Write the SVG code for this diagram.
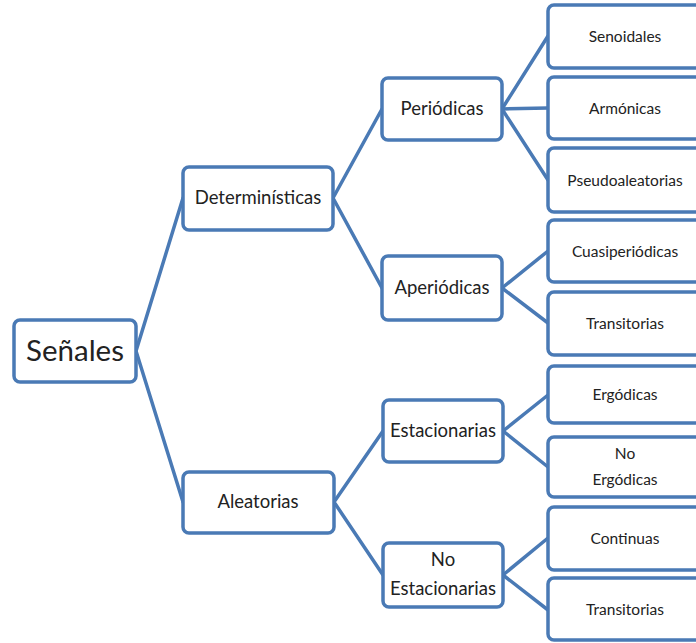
<svg xmlns="http://www.w3.org/2000/svg" width="696" height="643" viewBox="0 0 696 643">
  <style>
    .box { fill: #ffffff; stroke: #4a7ab5; stroke-width: 3.5; }
    .link { fill: none; stroke: #4a7ab5; stroke-width: 3.5; stroke-linecap: round; stroke-linejoin: round; }
    text { font-family: Lato, "Noto Sans", "Liberation Sans", sans-serif; fill: #222222; text-anchor: middle; }
    .t0 { font-size: 29.5px; }
    .t1 { font-size: 18.5px; }
    .t2 { font-size: 15.5px; }
  </style>
  <rect width="696" height="643" fill="#ffffff"/>

  <g id="connectors">
    <polyline class="link" points="183,198 136,351 183,502"/>
    <polyline class="link" points="382,109 333,198 382,288"/>
    <polyline class="link" points="383,431 334,502 383,575"/>
    <polyline class="link" points="548,36 502,109 548,180"/>
    <line class="link" x1="502" y1="109" x2="548" y2="108"/>
    <polyline class="link" points="548,251 502,288 548,323"/>
    <polyline class="link" points="548,395 503,431 548,467"/>
    <polyline class="link" points="548,538 503,575 548,610"/>
  </g>

  <g id="senales">
    <rect class="box" x="14" y="320" width="122" height="62" rx="6"/>
    <text class="t0" x="75" y="361">Señales</text>
  </g>

  <g id="deterministicas">
    <rect class="box" x="183" y="167" width="150" height="63" rx="6"/>
    <text class="t1" x="258" y="204">Determinísticas</text>
  </g>
  <g id="aleatorias">
    <rect class="box" x="183" y="472" width="151" height="61" rx="6"/>
    <text class="t1" x="258" y="508">Aleatorias</text>
  </g>

  <g id="periodicas">
    <rect class="box" x="382" y="78" width="120" height="62" rx="6"/>
    <text class="t1" x="442" y="115">Periódicas</text>
  </g>
  <g id="aperiodicas">
    <rect class="box" x="382" y="256" width="120" height="64" rx="6"/>
    <text class="t1" x="442" y="294">Aperiódicas</text>
  </g>
  <g id="estacionarias">
    <rect class="box" x="383" y="400" width="120" height="62" rx="6"/>
    <text class="t1" x="443" y="437">Estacionarias</text>
  </g>
  <g id="no-estacionarias">
    <rect class="box" x="383" y="543" width="120" height="64" rx="6"/>
    <text class="t1" x="443" y="566">No</text>
    <text class="t1" x="443" y="595">Estacionarias</text>
  </g>

  <g id="senoidales">
    <rect class="box" x="548" y="5" width="155" height="63" rx="6"/>
    <text class="t2" x="625" y="42">Senoidales</text>
  </g>
  <g id="armonicas">
    <rect class="box" x="548" y="77" width="155" height="62" rx="6"/>
    <text class="t2" x="625" y="114">Armónicas</text>
  </g>
  <g id="pseudoaleatorias">
    <rect class="box" x="548" y="148" width="155" height="64" rx="6"/>
    <text class="t2" x="625" y="186">Pseudoaleatorias</text>
  </g>
  <g id="cuasiperiodicas">
    <rect class="box" x="548" y="220" width="155" height="62" rx="6"/>
    <text class="t2" x="625" y="257">Cuasiperiódicas</text>
  </g>
  <g id="transitorias-1">
    <rect class="box" x="548" y="292" width="155" height="63" rx="6"/>
    <text class="t2" x="625" y="329">Transitorias</text>
  </g>
  <g id="ergodicas">
    <rect class="box" x="548" y="366" width="155" height="57" rx="6"/>
    <text class="t2" x="625" y="400">Ergódicas</text>
  </g>
  <g id="no-ergodicas">
    <rect class="box" x="548" y="437" width="155" height="60" rx="6"/>
    <text class="t2" x="625" y="459">No</text>
    <text class="t2" x="625" y="485">Ergódicas</text>
  </g>
  <g id="continuas">
    <rect class="box" x="548" y="507" width="155" height="63" rx="6"/>
    <text class="t2" x="625" y="544">Continuas</text>
  </g>
  <g id="transitorias-2">
    <rect class="box" x="548" y="578" width="155" height="62" rx="6"/>
    <text class="t2" x="625" y="615">Transitorias</text>
  </g>
</svg>
